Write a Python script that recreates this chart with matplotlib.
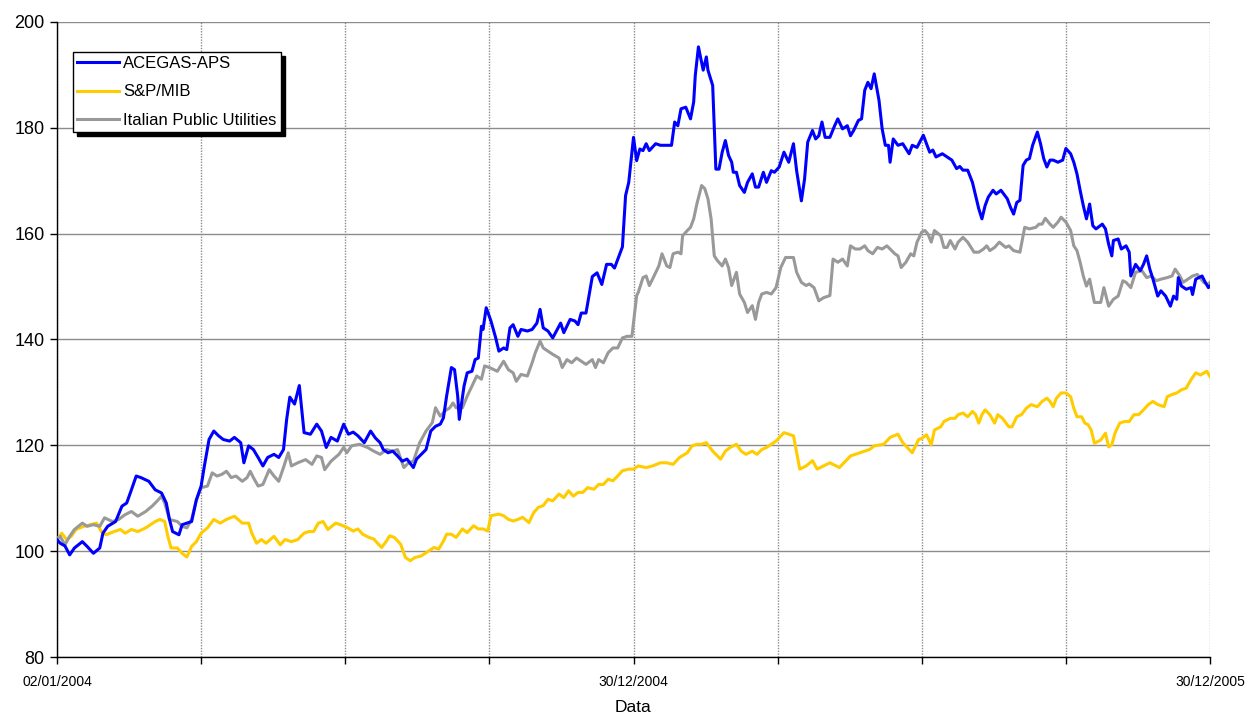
import matplotlib
matplotlib.use("Agg")
import matplotlib.pyplot as plt
import numpy as np

# days counted from 02/01/2004, values indexed to 100
acegas_days = [0, 2, 5, 8, 11, 16, 19, 23, 27, 29, 32, 37, 41, 44, 47, 50, 53, 58, 62, 66,
               69, 71, 73, 77, 79, 82, 85, 88, 91, 93, 96, 99, 102, 105, 109, 112, 116, 118, 121, 124,
               127, 130, 133, 137, 140, 143, 145, 147, 150, 153, 156, 160, 164, 167, 170, 173, 177, 181, 184, 187,
               190, 194, 198, 201, 204, 206, 209, 212, 215, 218, 221, 225, 227, 230, 233, 236, 239, 242, 244, 246,
               249, 251, 253, 254, 257, 259, 262, 264, 266, 268, 269, 271, 274, 277, 279, 282, 284, 286, 288, 291,
               293, 297, 300, 303, 305, 307, 310, 313, 318, 320, 324, 327, 329, 331, 334, 338, 341, 344, 347, 350,
               352, 354, 357, 359, 361, 363, 364, 366, 368, 370, 372, 374, 378, 381, 385, 388, 390, 392, 394, 397,
               400, 402, 403, 405, 408, 410, 411, 414, 416, 418, 420, 422, 424, 426, 427, 429, 431, 434, 436, 439,
               441, 443, 446, 448, 451, 453, 456, 459, 462, 465, 467, 470, 472, 474, 477, 479, 481, 483, 485, 488,
               491, 493, 496, 499, 501, 503, 506, 508, 510, 512, 514, 516, 519, 521, 523, 525, 526, 528, 531, 534,
               538, 540, 543, 547, 549, 551, 553, 555, 559, 562, 565, 568, 570, 572, 575, 578, 580, 582, 584, 586,
               588, 591, 593, 596, 600, 602, 604, 606, 608, 610, 612, 614, 616, 619, 621, 623, 625, 627, 629, 632,
               635, 637, 640, 642, 644, 646, 648, 650, 652, 654, 656, 660, 662, 664, 666, 667, 670, 672, 675, 677,
               678, 681, 684, 686, 688, 690, 692, 695, 697, 700, 703, 705, 707, 708, 710, 713, 716, 717, 719, 723,
               725, 727, 728]
acegas = [102.2, 101.5, 101.0, 99.3, 100.6, 101.8, 100.9, 99.6, 100.6, 103.4, 104.7, 105.6, 108.5, 109.1, 111.6, 114.2, 113.9, 113.2, 111.6, 111.0,
          109.1, 106.0, 103.7, 103.1, 105.0, 105.3, 105.6, 109.7, 112.3, 116.0, 121.1, 122.7, 121.8, 121.1, 120.8, 121.5, 120.5, 116.7, 119.9, 119.2,
          117.7, 116.1, 117.7, 118.3, 117.7, 119.2, 124.9, 129.1, 127.8, 131.3, 122.4, 122.1, 124.0, 122.7, 119.6, 121.5, 120.8, 124.0, 122.1, 122.5,
          121.8, 120.5, 122.7, 121.4, 120.5, 119.2, 118.6, 118.9, 118.0, 117.0, 117.4, 115.8, 117.4, 118.3, 119.2, 122.7, 123.6, 124.0, 125.2, 129.3,
          134.7, 134.3, 129.3, 124.9, 131.2, 133.7, 134.0, 136.2, 136.5, 142.5, 141.9, 146.0, 143.5, 140.3, 137.8, 138.4, 138.1, 142.2, 142.8, 140.6,
          141.9, 141.6, 141.9, 143.1, 145.7, 142.2, 141.6, 140.3, 143.1, 141.3, 143.8, 143.5, 142.8, 145.0, 145.0, 151.9, 152.6, 150.4, 154.2, 154.2,
          153.5, 155.1, 157.5, 167.2, 169.7, 175.4, 178.2, 173.8, 176.0, 175.7, 177.0, 175.7, 177.0, 176.7, 176.7, 176.7, 181.1, 180.4, 183.6, 183.9,
          181.7, 184.9, 189.9, 195.3, 190.9, 193.4, 190.9, 188.0, 172.2, 172.2, 175.4, 177.6, 174.8, 173.5, 171.6, 171.6, 169.1, 167.8, 169.7, 171.3,
          168.8, 168.8, 171.6, 169.7, 171.9, 171.6, 172.6, 175.4, 173.5, 177.0, 171.9, 166.2, 170.3, 177.3, 179.5, 177.9, 178.5, 181.1, 178.2, 178.2,
          180.4, 181.7, 179.8, 180.4, 178.5, 179.5, 181.4, 181.7, 187.1, 188.6, 187.4, 190.2, 185.2, 179.8, 176.7, 176.7, 173.5, 177.9, 176.7, 177.0,
          175.1, 176.7, 176.3, 178.6, 177.0, 175.4, 175.8, 174.5, 175.1, 174.5, 173.9, 172.3, 172.7, 172.0, 172.0, 169.7, 167.2, 164.7, 162.8, 165.3,
          166.9, 168.2, 167.5, 168.2, 166.6, 165.0, 163.7, 165.9, 166.3, 172.9, 173.9, 174.2, 176.7, 179.2, 177.0, 174.2, 172.6, 173.9, 173.9, 173.5,
          173.9, 176.1, 175.1, 173.5, 171.3, 168.2, 165.3, 162.8, 165.6, 161.5, 160.9, 161.8, 160.9, 158.0, 155.8, 158.7, 159.0, 157.1, 157.7, 156.5,
          152.0, 154.2, 153.0, 154.2, 155.8, 153.3, 151.4, 148.2, 149.2, 148.2, 146.3, 148.2, 147.6, 151.7, 150.1, 149.5, 149.8, 148.5, 151.4, 152.0,
          150.8, 149.8, 150.1]

mib_days = [0, 3, 6, 9, 12, 17, 21, 25, 28, 31, 36, 40, 43, 47, 51, 56, 59, 62, 65, 68,
            70, 72, 76, 79, 82, 85, 88, 91, 95, 99, 103, 107, 112, 117, 121, 123, 126, 129, 132, 137,
            141, 144, 148, 152, 156, 159, 162, 165, 168, 171, 176, 179, 183, 187, 190, 193, 197, 200, 203, 205,
            208, 210, 213, 217, 220, 223, 226, 230, 233, 238, 241, 244, 246, 249, 252, 256, 259, 263, 266, 269,
            272, 274, 279, 282, 285, 288, 291, 294, 298, 301, 304, 307, 310, 313, 317, 320, 323, 326, 329, 332,
            335, 339, 342, 345, 348, 351, 354, 357, 361, 364, 367, 372, 376, 381, 385, 389, 393, 398, 401, 404,
            407, 410, 414, 419, 422, 425, 429, 432, 435, 439, 442, 445, 448, 451, 454, 459, 462, 465, 467, 469,
            473, 477, 480, 482, 488, 494, 501, 507, 513, 516, 522, 526, 531, 534, 540, 544, 546, 549, 552, 554,
            558, 560, 564, 567, 569, 572, 575, 578, 580, 582, 584, 586, 589, 592, 594, 597, 601, 603, 606, 609,
            612, 615, 619, 622, 625, 627, 629, 631, 634, 637, 640, 642, 644, 647, 649, 651, 653, 655, 659, 662,
            664, 666, 668, 671, 674, 677, 680, 683, 686, 689, 692, 695, 699, 701, 704, 707, 710, 713, 716, 719,
            722, 726, 728]
mib = [102.2, 103.4, 102.2, 102.8, 104.1, 104.7, 105.0, 105.3, 103.7, 103.1, 103.7, 104.1, 103.4, 104.1, 103.7, 104.4, 105.0, 105.6, 106.0, 105.6,
       102.8, 100.6, 100.6, 99.6, 98.9, 100.9, 101.8, 103.4, 104.4, 106.0, 105.3, 106.0, 106.6, 105.3, 105.3, 103.4, 101.5, 102.2, 101.5, 102.8,
       101.2, 102.2, 101.8, 102.2, 103.4, 103.7, 103.7, 105.3, 105.6, 104.1, 105.3, 105.0, 104.5, 103.8, 104.2, 103.2, 102.6, 102.3, 101.3, 100.7,
       101.9, 102.9, 102.6, 101.3, 98.8, 98.2, 98.8, 99.1, 99.7, 100.7, 100.4, 101.9, 103.2, 103.2, 102.6, 104.2, 103.5, 104.8, 104.2, 104.2,
       103.8, 106.7, 107.0, 106.7, 106.0, 105.7, 106.0, 106.4, 105.4, 107.3, 108.3, 108.6, 109.8, 109.5, 110.8, 110.1, 111.4, 110.4, 111.1, 111.1,
       112.0, 111.7, 112.6, 112.6, 113.6, 113.3, 114.2, 115.2, 115.5, 115.5, 116.1, 115.8, 116.1, 116.7, 116.7, 116.4, 117.7, 118.6, 119.9, 120.2,
       120.2, 120.5, 118.9, 117.4, 118.9, 119.6, 120.2, 118.9, 118.3, 118.9, 118.3, 119.2, 119.6, 120.2, 120.8, 122.4, 122.1, 121.8, 118.6, 115.5,
       116.1, 117.1, 115.5, 115.8, 116.7, 115.8, 118.0, 118.6, 119.2, 119.9, 120.2, 121.5, 122.1, 120.5, 118.6, 121.1, 121.3, 122.0, 120.1, 122.9,
       123.5, 124.5, 125.1, 125.1, 125.8, 126.1, 125.4, 126.4, 125.8, 124.2, 125.8, 126.7, 125.8, 124.2, 125.8, 125.1, 123.5, 123.5, 125.4, 125.8,
       127.0, 127.7, 127.3, 128.3, 128.9, 128.3, 127.3, 128.9, 129.9, 129.9, 129.2, 127.0, 125.4, 125.4, 124.2, 123.9, 122.9, 120.4, 121.0, 122.3,
       119.7, 120.1, 122.3, 124.2, 124.5, 124.5, 125.8, 125.8, 126.7, 127.7, 128.3, 127.7, 127.3, 129.2, 129.6, 129.9, 130.5, 130.8, 132.4, 133.7,
       133.3, 134.0, 133.0]

ipu_days = [0, 2, 5, 8, 11, 16, 19, 23, 27, 30, 35, 39, 43, 47, 51, 56, 60, 63, 66, 68,
            71, 76, 79, 82, 85, 88, 91, 95, 98, 101, 104, 107, 110, 113, 117, 120, 122, 124, 127, 130,
            134, 137, 140, 143, 146, 148, 152, 157, 161, 164, 167, 169, 173, 178, 181, 183, 186, 191, 196, 200,
            204, 208, 212, 215, 219, 222, 225, 229, 233, 237, 239, 242, 245, 248, 250, 252, 256, 259, 262, 265,
            268, 270, 273, 278, 282, 285, 288, 290, 293, 297, 300, 302, 305, 307, 310, 313, 317, 319, 322, 325,
            328, 331, 334, 338, 340, 342, 345, 348, 351, 354, 357, 360, 363, 366, 367, 370, 372, 374, 376, 380,
            382, 385, 387, 389, 392, 394, 395, 398, 400, 402, 404, 407, 409, 411, 413, 415, 417, 420, 422, 424,
            426, 429, 431, 434, 436, 439, 441, 443, 445, 448, 451, 454, 457, 460, 463, 465, 467, 470, 473, 475,
            478, 481, 484, 488, 490, 493, 496, 499, 501, 504, 507, 510, 512, 515, 518, 521, 524, 527, 529, 531,
            533, 536, 539, 541, 543, 546, 548, 550, 552, 554, 558, 560, 562, 564, 567, 569, 572, 575, 579, 582,
            585, 587, 589, 592, 595, 599, 601, 604, 608, 611, 614, 618, 620, 622, 624, 627, 629, 632, 634, 637,
            640, 642, 644, 646, 648, 650, 652, 655, 659, 661, 664, 667, 670, 673, 675, 678, 681, 685, 688, 691,
            694, 697, 701, 704, 706, 709, 711, 714, 717, 720, 724, 727, 728]
ipu = [102.2, 102.8, 101.2, 102.8, 104.1, 105.3, 104.7, 105.0, 104.7, 106.3, 105.6, 106.0, 106.9, 107.5, 106.6, 107.5, 108.5, 109.4, 110.4, 109.1,
       106.0, 105.6, 104.7, 104.4, 106.0, 109.7, 112.0, 112.3, 114.8, 114.2, 114.5, 115.1, 113.9, 114.2, 113.2, 113.9, 115.1, 113.9, 112.3, 112.6,
       115.4, 114.2, 113.2, 115.8, 118.6, 116.1, 116.7, 117.3, 116.4, 118.0, 117.7, 115.4, 117.0, 118.3, 119.6, 118.6, 119.9, 120.2, 119.6, 118.9,
       118.3, 119.2, 118.9, 119.2, 115.8, 116.7, 117.0, 120.5, 122.7, 124.3, 127.1, 125.5, 126.5, 127.1, 128.0, 127.1, 127.1, 129.3, 131.2, 133.1,
       132.5, 135.0, 134.7, 134.0, 135.9, 134.3, 133.7, 132.1, 133.4, 133.1, 135.6, 137.5, 139.7, 138.4, 137.8, 137.2, 136.5, 134.7, 136.2, 135.6,
       136.5, 135.9, 135.3, 136.2, 134.7, 136.2, 135.6, 137.5, 138.4, 138.4, 140.3, 140.6, 140.6, 148.3, 148.9, 151.7, 152.0, 150.2, 151.4, 153.9,
       156.2, 153.9, 153.6, 156.2, 156.5, 156.2, 159.6, 160.6, 161.2, 162.8, 165.6, 169.1, 168.5, 166.6, 162.8, 155.8, 154.9, 153.9, 155.2, 153.6,
       150.2, 152.7, 148.6, 147.0, 145.1, 146.4, 143.8, 147.0, 148.6, 148.9, 148.6, 149.8, 153.6, 155.5, 155.5, 155.5, 152.7, 150.8, 150.2, 150.5,
       149.8, 147.3, 147.9, 148.3, 155.2, 154.6, 155.2, 153.9, 157.7, 157.1, 157.1, 157.7, 156.8, 156.2, 157.4, 157.1, 157.7, 156.8, 156.2, 155.8,
       153.6, 154.6, 156.2, 155.8, 158.4, 160.3, 160.6, 159.9, 158.4, 160.6, 159.6, 157.4, 157.4, 158.7, 157.1, 158.4, 159.3, 158.4, 156.5, 156.5,
       157.1, 157.7, 156.8, 157.4, 158.4, 157.4, 157.7, 156.8, 156.5, 161.2, 160.9, 161.2, 161.8, 161.8, 162.9, 161.8, 161.2, 162.2, 163.1, 162.2,
       160.6, 157.7, 156.8, 154.6, 152.0, 150.1, 151.4, 147.0, 147.0, 149.8, 146.3, 147.6, 148.2, 151.1, 150.8, 149.8, 152.7, 153.0, 151.7, 152.0,
       151.1, 151.4, 151.7, 152.0, 153.3, 152.0, 150.8, 151.4, 152.0, 152.3, 150.8, 150.4, 150.8]

series_names = ["ACEGAS-APS", "S&P/MIB", "Italian Public Utilities"]
series_colors = ["#0000FF", "#FFCC00", "#999999"]

grid_days = np.linspace(0, 728, 9)
tick_labels = ["02/01/2004", "", "", "", "30/12/2004", "", "", "", "30/12/2005"]
y_ticks = [80, 100, 120, 140, 160, 180, 200]

plt.rcParams['font.family'] = ['Liberation Sans', 'DejaVu Sans']

fig = plt.figure(figsize=(12.46, 7.13), dpi=100)
ax = fig.add_axes([57 / 1246, 56 / 713, 1153 / 1246, 635 / 713])

ax.plot(mib_days, mib, color=series_colors[1], lw=2.2, label=series_names[1], zorder=3)
ax.plot(ipu_days, ipu, color=series_colors[2], lw=2.2, label=series_names[2], zorder=4)
ax.plot(acegas_days, acegas, color=series_colors[0], lw=2.2, label=series_names[0], zorder=5)

ax.set_xlim(0, 728)
ax.set_ylim(80, 200)
ax.set_yticks(y_ticks)
ax.set_xticks(grid_days)
ax.set_xticklabels(tick_labels)

# gridlines: solid horizontal, dotted vertical
ax.grid(axis='y', color='#8c8c8c', lw=1.0, ls='-')
ax.grid(axis='x', color='#8c8c8c', lw=1.0, ls=(0, (1, 1)))
ax.set_axisbelow(True)

for s in ['top', 'right']:
    ax.spines[s].set_visible(False)
ax.spines['left'].set_color('black')
ax.spines['bottom'].set_color('black')
ax.spines['left'].set_linewidth(1.0)
ax.spines['bottom'].set_linewidth(1.0)

ax.tick_params(axis='y', direction='out', length=5, width=1, labelsize=13, pad=4)
ax.tick_params(axis='x', direction='out', length=5, width=1, labelsize=10, pad=8)
ax.set_xlabel("Data", fontsize=12.5, labelpad=8)

handles, labels = ax.get_legend_handles_labels()
order = [2, 0, 1]
leg = ax.legend([handles[i] for i in order], [labels[i] for i in order],
                loc='upper left', bbox_to_anchor=(16 / 1153, 1 - 30 / 635),
                fontsize=12, frameon=True, fancybox=False,
                shadow={'color': 'black', 'alpha': 1, 'ox': 3, 'oy': -3},
                edgecolor='black', framealpha=1, borderaxespad=0,
                handlelength=2.5, handletextpad=0.25, labelspacing=0.8,
                borderpad=0.25)
leg.get_frame().set_linewidth(1.0)
leg.set_zorder(10)

fig.savefig("out.png", dpi=100)
